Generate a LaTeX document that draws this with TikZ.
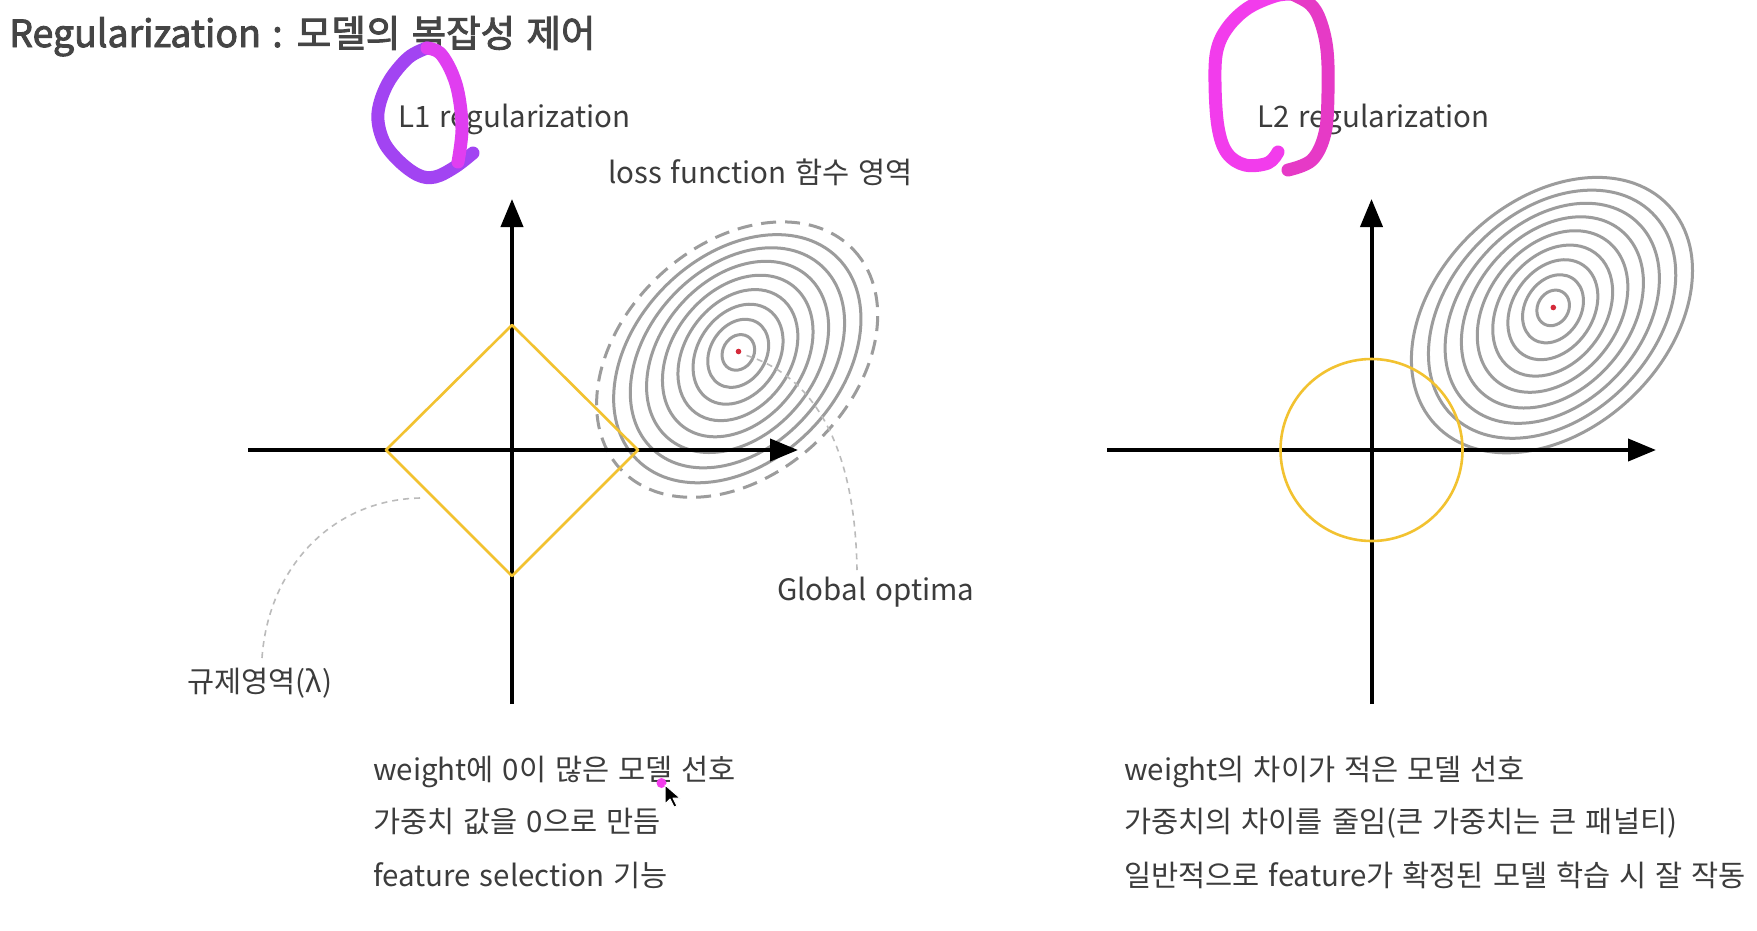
\documentclass[tikz,border=0pt]{standalone}
\usepackage{fontspec}
\setmainfont{Noto Sans CJK KR}[WordSpace=1.35]
\usetikzlibrary{arrows.meta}
\definecolor{txt}{HTML}{3C3C3C}
\definecolor{titlec}{HTML}{454545}
\definecolor{ringgray}{HTML}{9C9C9C}
\definecolor{leadgray}{HTML}{BBBBBB}
\definecolor{regyellow}{HTML}{F2C230}
\definecolor{dotred}{HTML}{D42A3A}
\definecolor{penviolet}{HTML}{A244F2}
\definecolor{penmag}{HTML}{E03EF0}
\definecolor{penpink}{HTML}{F23CEC}
\definecolor{penrose}{HTML}{E63AC6}
\newcommand{\semibold}[1]{\special{pdf:literal direct 2 Tr 0.9 w}#1\special{pdf:literal direct 0 Tr}}
\begin{document}
\begin{tikzpicture}[x=1pt,y=-1pt,
  axisline/.style={line width=4pt, -{Triangle[length=28pt,width=22pt]}},
  ring/.style={draw=ringgray, line width=3pt},
  dashring/.style={draw=ringgray, line width=3pt, dash pattern=on 15pt off 9pt},
  regshape/.style={draw=regyellow, line width=2.6pt, line join=round},
  leader/.style={draw=leadgray, line width=1.6pt, dash pattern=on 6pt off 5pt},
  lbl/.style={font=\fontsize{29.5}{35}\selectfont, text=txt, inner sep=0pt, anchor=base west},
  pen/.style={line width=13pt, line cap=round, line join=round},
  reddot/.style={circle, fill=dotred, inner sep=0pt, minimum size=5.6pt},
]
\useasboundingbox (0,0) rectangle (1757,930);
\fill[white] (0,0) rectangle (1757,930);

% ---------- title ----------
\node[anchor=base west, inner sep=0pt, text=titlec, font=\fontsize{37.5}{42}\selectfont] (title) at (9,47) {\semibold{Regularization : 모델의 복잡성 제어}};

% ---------- left panel ----------
\foreach \k [evaluate=\k as \ra using 18.5+(\k-1)*17.69,
             evaluate=\k as \rb using 15.5+(\k-1)*12.375,
             evaluate=\k as \ang using 60-(\k-1)*2.1] in {1,...,8}
  \draw[ring, shift={(738.5-0.15*\k, 351.5+0.9*\k)}, rotate=\ang] (0,0) ellipse [x radius=\ra, y radius=\rb];
\draw[dashring, shift={(737.15, 359.6)}, rotate=43.2] (0,0) ellipse [x radius=160, y radius=114.5];
\node[reddot] (dotL) at (738.5,351.5) {};

\coordinate (Lxs) at (248,450);
\coordinate (Lxe) at (798,450);
\coordinate (Lyb) at (512,704);
\coordinate (Lyt) at (512,199);
\draw[axisline] (Lxs) -- (Lxe);
\draw[axisline] (Lyb) -- (Lyt);

\coordinate (dW) at (386,450);
\coordinate (dN) at (512,325);
\coordinate (dE) at (638,450);
\coordinate (dS) at (512,576);
\draw[regshape] (dW) -- (dN) -- (dE) -- (dS) -- cycle;

\node[lbl] (l1) at (398,127) {L1 regularization};
\node[lbl] (loss) at (608,183) {loss function 함수 영역};
\node[lbl] (glob) at (777,600) {Global optima};
\node[lbl] (reglbl) at (187,692) {규제영역(λ)};

\coordinate (globtip) at (857,570);
\coordinate (regtip) at (420,498);
\coordinate (regstart) at (262,658);
\draw[leader] ([shift={(8,4)}]dotL.center) .. controls (810,375) and (855,440) .. (globtip);
\draw[leader] (regstart) .. controls (268,570) and (330,500) .. (regtip);

\node[lbl] (la) at (373,780) {weight에 0이 많은 모델 선호};
\node[lbl] (lb) at (373,832) {가중치 값을 0으로 만듬};
\node[lbl] (lc) at (373,886) {feature selection 기능};

% ---------- right panel ----------
\foreach \k [evaluate=\k as \ra using 18.5+(\k-1)*17.69,
             evaluate=\k as \rb using 15.5+(\k-1)*12.375,
             evaluate=\k as \ang using 60-(\k-1)*2.1] in {1,...,9}
  \draw[ring, shift={(1553.3-0.15*\k, 307+0.9*\k)}, rotate=\ang] (0,0) ellipse [x radius=\ra, y radius=\rb];
\node[reddot] (dotR) at (1553.3,307.5) {};

\coordinate (Rxs) at (1107,450);
\coordinate (Rxe) at (1656,450);
\coordinate (Ryb) at (1371.5,704);
\coordinate (Ryt) at (1371.5,199);
\draw[axisline] (Rxs) -- (Rxe);
\draw[axisline] (Ryb) -- (Ryt);
\draw[regshape] (1371.5,450) circle [radius=91];

\node[lbl] (l2) at (1257,127) {L2 regularization};
\node[lbl] (ra) at (1124,780) {weight의 차이가 적은 모델 선호};
\node[lbl] (rb) at (1124,832) {가중치의 차이를 줄임(큰 가중치는 큰 패널티)};
\node[lbl] (rc) at (1124,886) {일반적으로 feature가 확정된 모델 학습 시 잘 작동};

% ---------- pen annotations ----------
\draw[pen, penviolet] plot[smooth, tension=0.6] coordinates {(427,48) (408,58) (388,83) (378,113) (383,140) (398,160) (418,175) (435,177) (455,167) (473,153)};
\draw[pen, penmag] plot[smooth, tension=0.6] coordinates {(458,162) (462,130) (459,97) (452,73) (440,53) (427,48)};

\draw[pen, penpink] plot[smooth, tension=0.6] coordinates {(1278,152) (1268,163) (1245,165) (1227,153) (1218,127) (1215,83) (1217,50) (1228,27) (1248,8) (1275,-4) (1292,-6)};
\draw[pen, penrose] plot[smooth, tension=0.6] coordinates {(1292,-6) (1310,4) (1320,20) (1327,50) (1328,93) (1325,133) (1312,160) (1288,170)};

% pen dot and cursor
\fill[penpink] (661.5,783) circle [radius=5];
\draw[white, line width=1pt, fill=black, line join=round] (665,785) -- (665,804) -- (670,799) -- (674,807) -- (677,806) -- (673,798) -- (680,798) -- cycle;
\end{tikzpicture}
\end{document}
